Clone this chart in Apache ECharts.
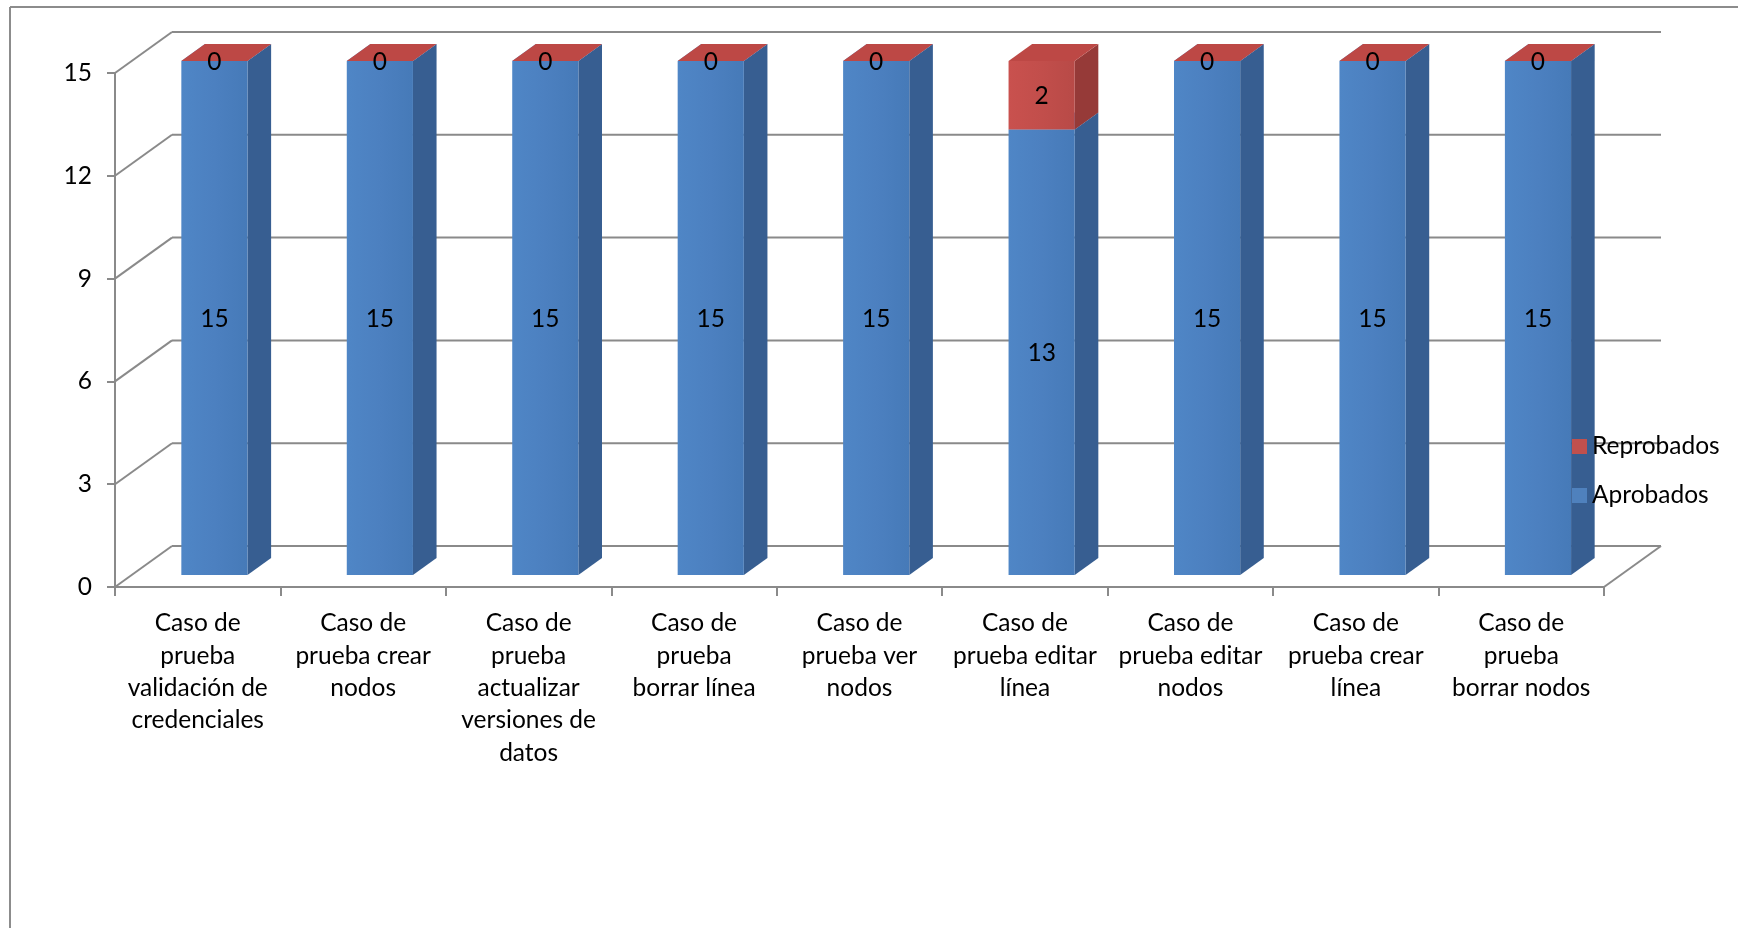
<!DOCTYPE html>
<html>
<head>
<meta charset="utf-8">
<title>Casos de prueba</title>
<script src="https://cdn.jsdelivr.net/npm/echarts@6/dist/echarts.min.js"></script>
<style>
  html, body { margin: 0; padding: 0; background: #ffffff; }
  #chart { width: 1738px; height: 928px; }
</style>
</head>
<body>
<div id="chart"></div>
<script>
// Test cases (wrapped as they are printed under the axis) and their results
const categories = [
  'Caso de\nprueba\nvalidación de\ncredenciales',
  'Caso de\nprueba crear\nnodos',
  'Caso de\nprueba\nactualizar\nversiones de\ndatos',
  'Caso de\nprueba\nborrar línea',
  'Caso de\nprueba ver\nnodos',
  'Caso de\nprueba editar\nlínea',
  'Caso de\nprueba editar\nnodos',
  'Caso de\nprueba crear\nlínea',
  'Caso de\nprueba\nborrar nodos'
];
const aprobados = [15, 15, 15, 15, 15, 13, 15, 15, 15];
const reprobados = [0, 0, 0, 0, 0, 2, 0, 0, 0];
const yTicks = [0, 3, 6, 9, 12, 15];

// 3D look: depth of the floor / side walls in pixels
const DEPTH_X = 57;
const DEPTH_Y = 41;
const BAR_FRONT = 0.293;   // bar front face position inside the depth
const BAR_BACK = 0.707;    // bar back face position inside the depth
const BAR_WIDTH = 0.4;     // fraction of the category band

const FONT = 'Lato';
const FONT_SIZE = 24.5;
const GRID_COLOR = '#8a8a8a';

const palette = {
  Aprobados: {
    front: new echarts.graphic.LinearGradient(0, 0, 1, 0, [
      { offset: 0, color: '#4f86c6' },
      { offset: 0.5, color: '#4c80c0' },
      { offset: 1, color: '#467ab8' }
    ]),
    side: '#375e91',
    top: '#5a8fcc'
  },
  Reprobados: {
    front: new echarts.graphic.LinearGradient(0, 0, 1, 0, [
      { offset: 0, color: '#c9514e' },
      { offset: 0.5, color: '#c24e4b' },
      { offset: 1, color: '#b84a47' }
    ]),
    side: '#963a38',
    top: '#bd4845'
  }
};

function boxRenderer(name) {
  const col = palette[name];
  return function (params, api) {
    const i = api.value(0);
    const v0 = api.value(1);
    const v1 = api.value(2);
    const val = api.value(3);
    const bw = api.size([1, 0])[0] * BAR_WIDTH;
    const p0 = api.coord([i, v0]);
    const p1 = api.coord([i, v1]);
    const fx = DEPTH_X * BAR_FRONT, fy = DEPTH_Y * BAR_FRONT;
    const dx = DEPTH_X * (BAR_BACK - BAR_FRONT), dy = DEPTH_Y * (BAR_BACK - BAR_FRONT);
    const xl = p0[0] - bw / 2 + fx;
    const xr = xl + bw;
    const yb = p0[1] - fy;
    const yt = p1[1] - fy;
    return {
      type: 'group',
      children: [
        {
          type: 'polygon',
          shape: { points: [[xr, yb], [xr + dx, yb - dy], [xr + dx, yt - dy], [xr, yt]] },
          style: { fill: col.side }
        },
        {
          type: 'rect',
          shape: { x: xl, y: yt, width: bw, height: yb - yt },
          style: { fill: col.front }
        },
        {
          type: 'polygon',
          shape: { points: [[xl, yt], [xr, yt], [xr + dx, yt - dy], [xl + dx, yt - dy]] },
          style: { fill: col.top }
        },
        {
          type: 'text',
          x: xl + bw / 2,
          y: (yb + yt) / 2 + 1,
          style: {
            text: String(val),
            fill: '#000000',
            font: FONT_SIZE + 'px ' + FONT,
            align: 'center',
            verticalAlign: 'middle'
          },
          z2: 10
        }
      ]
    };
  };
}

// Walls and floor of the 3D plot area
function wallRenderer(params, api) {
  const cs = params.coordSys;
  const t = api.value(1);
  const y = api.coord([0, t])[1];
  const x0 = cs.x;
  const x1 = cs.x + cs.width;
  const ls = { stroke: GRID_COLOR, lineWidth: 2 };
  const children = [
    { type: 'line', shape: { x1: x0, y1: y, x2: x0 + DEPTH_X, y2: y - DEPTH_Y }, style: ls },
    { type: 'line', shape: { x1: x0 + DEPTH_X, y1: y - DEPTH_Y, x2: x1 + DEPTH_X, y2: y - DEPTH_Y }, style: ls }
  ];
  if (t === 0) {
    children.push({ type: 'line', shape: { x1: x1, y1: y, x2: x1 + DEPTH_X, y2: y - DEPTH_Y }, style: ls });
  }
  return { type: 'group', children: children };
}

const chart = echarts.init(document.getElementById('chart'), null, { renderer: 'canvas' });

chart.setOption({
  backgroundColor: '#ffffff',
  animation: false,
  textStyle: { fontFamily: FONT },
  grid: { left: 115, right: 134, top: 73, bottom: 341 },
  legend: {
    orient: 'vertical',
    left: 1567,
    top: 429,
    itemWidth: 15,
    itemHeight: 15,
    itemGap: 24,
    icon: 'rect',
    data: ['Reprobados', 'Aprobados'],
    textStyle: { fontFamily: FONT, fontSize: FONT_SIZE, color: '#000000', lineHeight: 24 }
  },
  xAxis: {
    type: 'category',
    data: categories,
    axisLine: { show: true, lineStyle: { color: GRID_COLOR, width: 2 } },
    axisTick: { show: true, length: 9, lineStyle: { color: GRID_COLOR, width: 2 } },
    splitLine: { show: false },
    axisLabel: {
      interval: 0,
      margin: 20,
      color: '#000000',
      fontFamily: FONT,
      fontSize: FONT_SIZE,
      lineHeight: 32.4,
      align: 'center'
    }
  },
  yAxis: {
    type: 'value',
    min: 0,
    max: 15,
    interval: 3,
    axisLine: { show: true, lineStyle: { color: GRID_COLOR, width: 2 } },
    axisTick: { show: true, length: 8, lineStyle: { color: GRID_COLOR, width: 2 } },
    splitLine: { show: false },
    axisLabel: { margin: 23, color: '#000000', fontFamily: FONT, fontSize: FONT_SIZE }
  },
  graphic: [
    { type: 'line', shape: { x1: 10, y1: 7, x2: 1738, y2: 7 }, style: { stroke: '#8c8c8c', lineWidth: 2 }, z: 0 },
    { type: 'line', shape: { x1: 10, y1: 7, x2: 10, y2: 928 }, style: { stroke: '#8c8c8c', lineWidth: 2 }, z: 0 }
  ],
  series: [
    {
      type: 'custom',
      name: 'walls',
      z: 1,
      silent: true,
      renderItem: wallRenderer,
      data: yTicks.map(function (t) { return [0, t]; })
    },
    {
      type: 'custom',
      name: 'Aprobados',
      z: 2,
      itemStyle: { color: '#4f81bd' },
      renderItem: boxRenderer('Aprobados'),
      encode: { x: 0, y: [1, 2] },
      data: aprobados.map(function (v, i) { return [i, 0, v, v]; })
    },
    {
      type: 'custom',
      name: 'Reprobados',
      z: 3,
      itemStyle: { color: '#c0504d' },
      renderItem: boxRenderer('Reprobados'),
      encode: { x: 0, y: [1, 2] },
      data: reprobados.map(function (v, i) { return [i, aprobados[i], aprobados[i] + v, v]; })
    }
  ]
});
</script>
</body>
</html>
